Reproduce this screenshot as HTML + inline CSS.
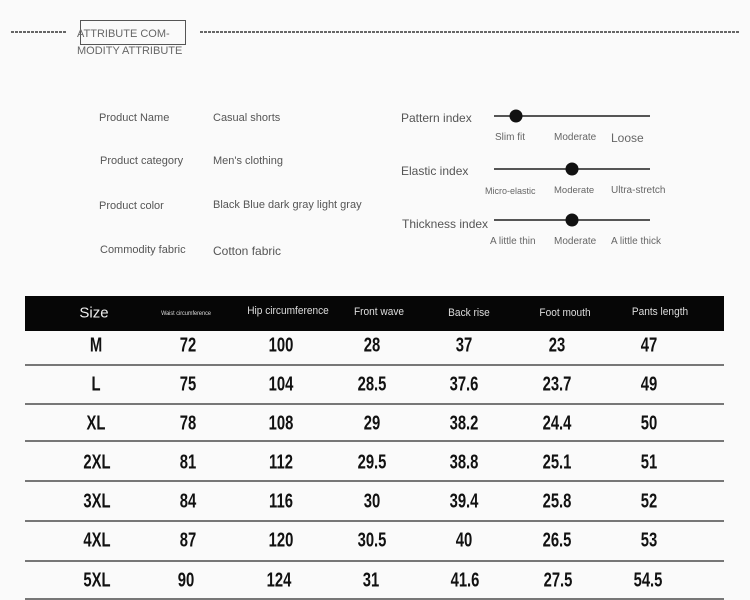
<!DOCTYPE html>
<html><head><meta charset="utf-8"><style>
body{margin:0;width:750px;height:600px;background:#fafafa;position:relative;overflow:hidden;font-family:"Liberation Sans",sans-serif;}
.a{position:absolute;white-space:nowrap;}
.c{position:absolute;white-space:nowrap;transform:translate(-50%,-50%);}
.v{font-size:20px;color:#111;font-weight:bold;transform:translate(-50%,-50%) scaleX(0.74);}
.h{color:#ddd;font-size:11px;transform:translate(-50%,-50%) scaleX(0.92);}
.l{color:#555;font-size:11px;}
.g{position:absolute;left:25px;width:699px;height:2px;background:#777;}
.tr{position:absolute;height:2px;background:#555;left:494px;width:156px;}
.dot{position:absolute;width:13px;height:13px;border-radius:50%;background:#111;transform:translate(-50%,-50%);}
.s{color:#666;font-size:10px;}
.dash{position:absolute;height:2px;background:repeating-linear-gradient(90deg,#666 0 3px,transparent 3px 4px);}
</style></head><body>
<div class="dash" style="left:11px;top:31px;width:56px;"></div>
<div class="dash" style="left:200px;top:31px;width:540px;"></div>
<div class="a" style="left:80px;top:20px;width:104px;height:23px;border:1.5px solid #555;"></div>
<div class="a" style="left:77px;top:26px;font-size:11px;color:#666;line-height:17px;">ATTRIBUTE COM-<br>MODITY ATTRIBUTE</div>

<div class="a l" style="left:99px;top:112px;">Product Name</div>
<div class="a l" style="left:100px;top:155px;">Product category</div>
<div class="a l" style="left:99px;top:200px;">Product color</div>
<div class="a l" style="left:100px;top:244px;">Commodity fabric</div>
<div class="a l" style="left:213px;top:112px;">Casual shorts</div>
<div class="a l" style="left:213px;top:155px;">Men's clothing</div>
<div class="a l" style="left:213px;top:199px;">Black Blue dark gray light gray</div>
<div class="a l" style="left:213px;top:244px;font-size:12px;">Cotton fabric</div>

<div class="a" style="left:401px;top:111px;font-size:12px;color:#555;">Pattern index</div>
<div class="a" style="left:401px;top:164px;font-size:12px;color:#555;">Elastic index</div>
<div class="a" style="left:402px;top:217px;font-size:12px;color:#555;">Thickness index</div>
<div class="tr" style="top:115px;"></div><div class="dot" style="left:516px;top:116px;"></div>
<div class="tr" style="top:168px;"></div><div class="dot" style="left:572px;top:169px;"></div>
<div class="tr" style="top:219px;"></div><div class="dot" style="left:572px;top:220px;"></div>
<div class="a s" style="left:495px;top:132px;">Slim fit</div>
<div class="a s" style="left:554px;top:132px;">Moderate</div>
<div class="a" style="left:611px;top:131px;font-size:12px;color:#666;">Loose</div>
<div class="a" style="left:485px;top:186px;font-size:9px;color:#666;">Micro-elastic</div>
<div class="a" style="left:554px;top:185px;font-size:9.5px;color:#666;">Moderate</div>
<div class="a s" style="left:611px;top:185px;">Ultra-stretch</div>
<div class="a s" style="left:490px;top:236px;">A little thin</div>
<div class="a s" style="left:554px;top:236px;">Moderate</div>
<div class="a s" style="left:611px;top:236px;">A little thick</div>

<div class="a" style="left:25px;top:296px;width:699px;height:35px;background:#060606;"></div>
<div class="c" style="left:94px;top:313px;color:#eee;font-size:15px;">Size</div>
<div class="c h" style="left:186px;top:314px;font-size:6px;">Waist circumference</div>
<div class="c h" style="left:288px;top:311px;">Hip circumference</div>
<div class="c h" style="left:379px;top:312px;">Front wave</div>
<div class="c h" style="left:469px;top:313px;">Back rise</div>
<div class="c h" style="left:565px;top:313px;">Foot mouth</div>
<div class="c h" style="left:660px;top:312px;">Pants length</div>

<div class="g" style="top:364px;"></div>
<div class="g" style="top:403px;"></div>
<div class="g" style="top:440px;"></div>
<div class="g" style="top:480px;"></div>
<div class="g" style="top:520px;"></div>
<div class="g" style="top:560px;"></div>
<div class="g" style="top:598px;"></div>

<div class="c v" style="left:96px;top:346px;">M</div><div class="c v" style="left:188px;top:346px;">72</div><div class="c v" style="left:281px;top:346px;">100</div><div class="c v" style="left:372px;top:346px;">28</div><div class="c v" style="left:464px;top:346px;">37</div><div class="c v" style="left:557px;top:346px;">23</div><div class="c v" style="left:649px;top:346px;">47</div>
<div class="c v" style="left:96px;top:385px;">L</div><div class="c v" style="left:188px;top:385px;">75</div><div class="c v" style="left:281px;top:385px;">104</div><div class="c v" style="left:372px;top:385px;">28.5</div><div class="c v" style="left:464px;top:385px;">37.6</div><div class="c v" style="left:557px;top:385px;">23.7</div><div class="c v" style="left:649px;top:385px;">49</div>
<div class="c v" style="left:96px;top:424px;">XL</div><div class="c v" style="left:188px;top:424px;">78</div><div class="c v" style="left:281px;top:424px;">108</div><div class="c v" style="left:372px;top:424px;">29</div><div class="c v" style="left:464px;top:424px;">38.2</div><div class="c v" style="left:557px;top:424px;">24.4</div><div class="c v" style="left:649px;top:424px;">50</div>
<div class="c v" style="left:97px;top:463px;">2XL</div><div class="c v" style="left:188px;top:463px;">81</div><div class="c v" style="left:281px;top:463px;">112</div><div class="c v" style="left:372px;top:463px;">29.5</div><div class="c v" style="left:464px;top:463px;">38.8</div><div class="c v" style="left:557px;top:463px;">25.1</div><div class="c v" style="left:649px;top:463px;">51</div>
<div class="c v" style="left:97px;top:502px;">3XL</div><div class="c v" style="left:188px;top:502px;">84</div><div class="c v" style="left:281px;top:502px;">116</div><div class="c v" style="left:372px;top:502px;">30</div><div class="c v" style="left:464px;top:502px;">39.4</div><div class="c v" style="left:557px;top:502px;">25.8</div><div class="c v" style="left:649px;top:502px;">52</div>
<div class="c v" style="left:97px;top:541px;">4XL</div><div class="c v" style="left:188px;top:541px;">87</div><div class="c v" style="left:281px;top:541px;">120</div><div class="c v" style="left:372px;top:541px;">30.5</div><div class="c v" style="left:464px;top:541px;">40</div><div class="c v" style="left:557px;top:541px;">26.5</div><div class="c v" style="left:649px;top:541px;">53</div>
<div class="c v" style="left:97px;top:581px;">5XL</div><div class="c v" style="left:186px;top:581px;">90</div><div class="c v" style="left:279px;top:581px;">124</div><div class="c v" style="left:371px;top:581px;">31</div><div class="c v" style="left:465px;top:581px;">41.6</div><div class="c v" style="left:558px;top:581px;">27.5</div><div class="c v" style="left:648px;top:581px;">54.5</div>
</body></html>
